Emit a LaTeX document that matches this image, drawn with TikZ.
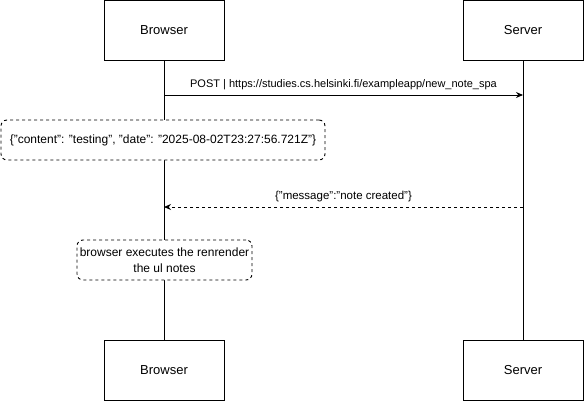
\documentclass[tikz,border=0pt]{standalone}
\usepackage{fontspec}
\setmainfont{Liberation Sans}
\usetikzlibrary{arrows.meta, positioning}

\begin{document}
\begin{tikzpicture}[x=1pt, y=-1pt, line width=0.9pt,
    actor/.style={draw, fill=white, minimum width=120pt, minimum height=60pt, inner sep=0pt, font=\fontsize{13}{15}\selectfont},
    notebox/.style={draw, fill=white, dash pattern=on 3pt off 3pt, rounded corners=6pt, align=center, inner sep=0pt, font=\fontsize{12}{16}\selectfont},
    msg/.style={-{Stealth[length=7pt, width=6pt]}},
    lbl/.style={font=\fontsize{11}{13}\selectfont, inner sep=0pt}]
        \useasboundingbox (0,0) rectangle (584,400);

        % Participants
        \node[actor] (browser) at (164,30) {Browser};
        \node[actor] (server) at (523,30) {Server};
        \node[actor] (browserEnd) at (164,370) {Browser};
        \node[actor] (serverEnd) at (523,370) {Server};

        % Lifelines
        \draw (browser) -- (browserEnd);
        \draw (server) -- (serverEnd);

        % Request
        \coordinate (postFrom) at (164,95);
        \coordinate (postTo) at (523,95);
        \draw[msg] (postFrom) -- (postTo) node[lbl, midway, above=5pt] {POST | https://studies.cs.helsinki.fi/exampleapp/new\_note\_spa};

        % Payload
        \node[notebox, minimum width=324pt, minimum height=40pt] (payload) at (163,140) {\{"content": "testing", "date": "2025-08-02T23:27:56.721Z"\}};

        % Response
        \coordinate (respFrom) at (523,207);
        \coordinate (respTo) at (164,207);
        \draw[msg, dash pattern=on 3pt off 3pt] (respFrom) -- (respTo) node[lbl, midway, above=5pt, font=\fontsize{11.5}{13}\selectfont] {\{"message":"note created"\}};

        % Rerender
        \node[notebox, minimum width=175pt, minimum height=40pt] (rerender) at (164.5,260) {browser executes the renrender\\the ul notes};
    \end{tikzpicture}
\end{document}
